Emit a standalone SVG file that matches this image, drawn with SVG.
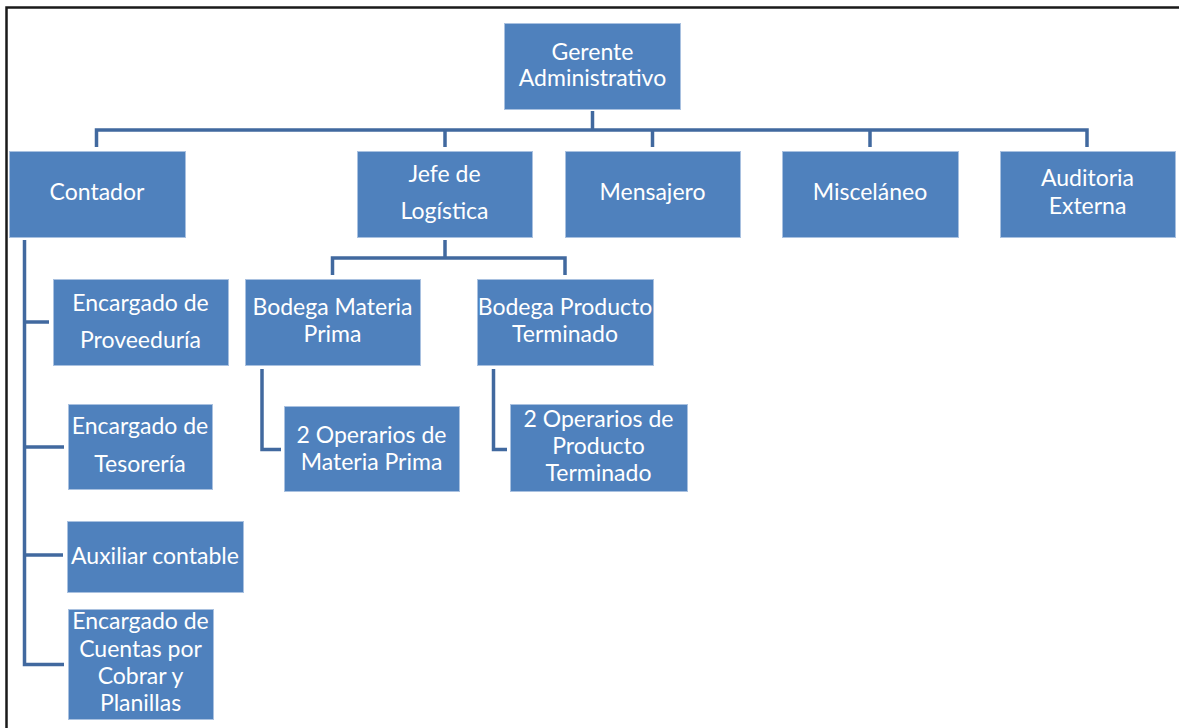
<svg xmlns="http://www.w3.org/2000/svg" width="1179" height="728" viewBox="0 0 1179 728">
  <style>
    .box { fill: #4f81bd; stroke: #a9c1e0; stroke-width: 1; }
    .lbl { fill: #ffffff; font-family: Lato, "Open Sans", "Liberation Sans", sans-serif; font-size: 23px; text-anchor: middle; }
    .wire { fill: none; stroke: #41699f; stroke-width: 3.5; stroke-linejoin: miter; }
    .frame { fill: none; stroke: #1a1a1a; stroke-width: 2.5; }
  </style>
  <rect width="1179" height="728" fill="#ffffff"/>

  <!-- page frame (top and left edges) -->
  <path class="frame" d="M6.5,728 V7.5 H1179"/>

  <!-- connectors -->
  <g id="connectors">
    <!-- manager to first level -->
    <path class="wire" d="M592.5,111 V130"/>
    <path class="wire" d="M96.5,147 V130 H1087 V147"/>
    <path class="wire" d="M445,130 V147"/>
    <path class="wire" d="M652.5,130 V147"/>
    <path class="wire" d="M870,130 V147"/>
    <!-- accounting column -->
    <path class="wire" d="M24.5,240 V664.5 H64"/>
    <path class="wire" d="M24.5,322 H49"/>
    <path class="wire" d="M24.5,447 H64"/>
    <path class="wire" d="M24.5,555 H63"/>
    <!-- logistics -->
    <path class="wire" d="M445,240 V258"/>
    <path class="wire" d="M332.5,275 V258 H565 V275"/>
    <path class="wire" d="M262,369 V449.5 H281"/>
    <path class="wire" d="M493.5,369 V449.5 H507"/>
  </g>

  <g id="gerente">
    <rect class="box" x="504.5" y="23.5" width="176" height="86"/>
    <text class="lbl" x="592.5" y="59.5">Gerente</text>
    <text class="lbl" x="592.5" y="86">Administrativo</text>
  </g>

  <g id="contador">
    <rect class="box" x="9.5" y="151.5" width="176" height="86"/>
    <text class="lbl" x="97" y="200">Contador</text>
  </g>

  <g id="jefe-logistica">
    <rect class="box" x="357.5" y="151.5" width="175" height="86"/>
    <text class="lbl" x="444.5" y="182">Jefe de</text>
    <text class="lbl" x="444.5" y="218.5">Logística</text>
  </g>

  <g id="mensajero">
    <rect class="box" x="565.5" y="151.5" width="175" height="86"/>
    <text class="lbl" x="652.5" y="200">Mensajero</text>
  </g>

  <g id="miscelaneo">
    <rect class="box" x="782.5" y="151.5" width="176" height="86"/>
    <text class="lbl" x="870" y="200">Misceláneo</text>
  </g>

  <g id="auditoria">
    <rect class="box" x="1000.5" y="151.5" width="175" height="86"/>
    <text class="lbl" x="1087.5" y="186">Auditoria</text>
    <text class="lbl" x="1087.5" y="213.5">Externa</text>
  </g>

  <g id="proveeduria">
    <rect class="box" x="53.5" y="279.5" width="175" height="86"/>
    <text class="lbl" x="140.5" y="311">Encargado de</text>
    <text class="lbl" x="140.5" y="348">Proveeduría</text>
  </g>

  <g id="tesoreria">
    <rect class="box" x="68.5" y="404.5" width="144" height="85"/>
    <text class="lbl" x="140" y="434">Encargado de</text>
    <text class="lbl" x="140" y="472">Tesorería</text>
  </g>

  <g id="auxiliar">
    <rect class="box" x="67.5" y="521.5" width="176" height="71"/>
    <text class="lbl" x="155" y="563.5">Auxiliar contable</text>
  </g>

  <g id="cuentas">
    <rect class="box" x="68.5" y="609.5" width="145" height="110"/>
    <text class="lbl" x="140.5" y="629">Encargado de</text>
    <text class="lbl" x="140.5" y="656.5">Cuentas por</text>
    <text class="lbl" x="140.5" y="683.5">Cobrar y</text>
    <text class="lbl" x="140.5" y="711">Planillas</text>
  </g>

  <g id="bodega-mp">
    <rect class="box" x="245.5" y="279.5" width="175" height="86"/>
    <text class="lbl" x="332.5" y="315">Bodega Materia</text>
    <text class="lbl" x="332.5" y="342">Prima</text>
  </g>

  <g id="bodega-pt">
    <rect class="box" x="477.5" y="279.5" width="176" height="86"/>
    <text class="lbl" x="565" y="315">Bodega Producto</text>
    <text class="lbl" x="565" y="342">Terminado</text>
  </g>

  <g id="operarios-mp">
    <rect class="box" x="284.5" y="406.5" width="175" height="85"/>
    <text class="lbl" x="371.5" y="443">2 Operarios de</text>
    <text class="lbl" x="371.5" y="469.5">Materia Prima</text>
  </g>

  <g id="operarios-pt">
    <rect class="box" x="510.5" y="404.5" width="177" height="87"/>
    <text class="lbl" x="598.5" y="427">2 Operarios de</text>
    <text class="lbl" x="598.5" y="454">Producto</text>
    <text class="lbl" x="598.5" y="481">Terminado</text>
  </g>
</svg>
